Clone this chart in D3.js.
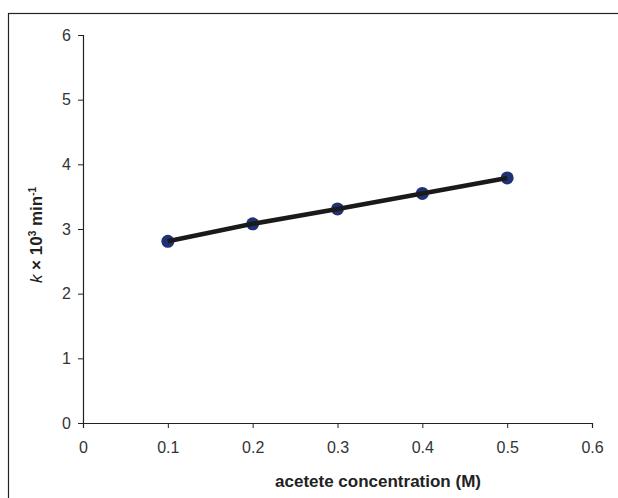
<!DOCTYPE html>
<html><head><meta charset="utf-8">
<script src="https://cdn.jsdelivr.net/npm/d3@7"></script>
<style>body{margin:0;background:#fff}</style>
</head><body>
<script>
const concentrations = [0.1, 0.2, 0.3, 0.4, 0.5];
const kValues = [2.81, 3.08, 3.31, 3.55, 3.79];
const xTicks = [0, 0.1, 0.2, 0.3, 0.4, 0.5, 0.6];
const yTicks = [0, 1, 2, 3, 4, 5, 6];

const W = 618, H = 498;
const svg = d3.select("body").append("svg").attr("width", W).attr("height", H);
svg.append("rect").attr("x", 8.5).attr("y", 13.5).attr("width", 700).attr("height", 600)
  .attr("fill", "none").attr("stroke", "#222").attr("stroke-width", 1.2);

const x = d3.scaleLinear().domain([0, 0.6]).range([83, 592]);
const y = d3.scaleLinear().domain([0, 6]).range([423, 35]);
const font = "'Liberation Sans', Arial, sans-serif";

const xa = svg.append("g").attr("transform", "translate(0,423)")
  .call(d3.axisBottom(x).tickValues(xTicks).tickSize(5).tickPadding(13.5).tickFormat(d => d === 0 ? "0" : d3.format(".1f")(d)));
const ya = svg.append("g").attr("transform", "translate(83,0)")
  .call(d3.axisLeft(y).tickValues(yTicks).tickSize(5).tickPadding(7).tickFormat(d3.format("d")));
[xa, ya].forEach(a => {
  a.attr("font-size", null).attr("font-family", null);
  a.select(".domain").attr("stroke", "#222").attr("stroke-width", 1.2);
  a.selectAll(".tick line").attr("stroke", "#222");
  a.selectAll("text").style("font-family", font).style("font-size", "16px").attr("fill", "#333");
});

const data = concentrations.map((c, i) => ({c, k: kValues[i]}));
svg.append("g").selectAll("circle").data(data).join("circle")
  .attr("cx", d => x(d.c)).attr("cy", d => y(d.k)).attr("r", 6.5).attr("fill", "#1f3275");
svg.append("path").datum(data)
  .attr("d", d3.line().x(d => x(d.c)).y(d => y(d.k)))
  .attr("fill", "none").attr("stroke", "#1a1a1a").attr("stroke-width", 4.5);

svg.append("text").attr("x", 378).attr("y", 487).attr("text-anchor", "middle")
  .style("font-family", font).style("font-size", "17px").attr("font-weight", "bold").attr("fill", "#222")
  .text("acetete concentration (M)");

const yl = svg.append("text").attr("transform", "translate(42,235) rotate(-90)").attr("text-anchor", "middle")
  .style("font-family", font).style("font-size", "17px").attr("font-weight", "bold").attr("fill", "#222");
yl.append("tspan").attr("font-style", "italic").attr("font-weight", "normal").text("k");
yl.append("tspan").text(" × 10");
yl.append("tspan").style("font-size", "10px").attr("dy", -6).text("3");
yl.append("tspan").attr("dy", 6).text(" min");
yl.append("tspan").style("font-size", "10px").attr("dy", -6).text("-1");
</script>
</body></html>
